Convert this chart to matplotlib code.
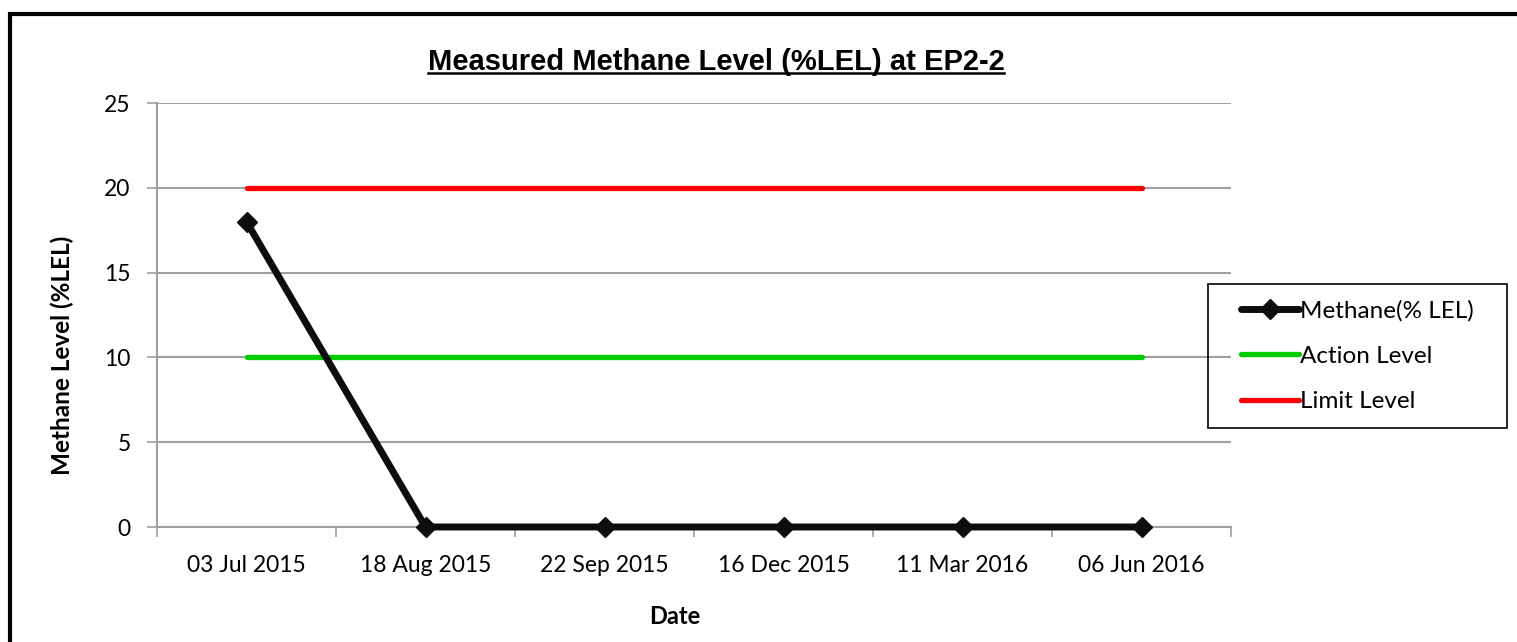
import numpy as np
import matplotlib
matplotlib.use('Agg')
import matplotlib.pyplot as plt
from matplotlib.patches import Rectangle
from matplotlib.lines import Line2D

dates = ['03 Jul 2015', '18 Aug 2015', '22 Sep 2015', '16 Dec 2015', '11 Mar 2016', '06 Jun 2016']
methane = [18, 0, 0, 0, 0, 0]
action_level = [10, 10, 10, 10, 10, 10]
limit_level = [20, 20, 20, 20, 20, 20]

W, H = 1517, 642
fig = plt.figure(figsize=(W / 100, H / 100), dpi=100)
ax = fig.add_axes([157 / W, 1 - 527 / H, (1231 - 157) / W, (527 - 103) / H])

font = 'Lato'
x = np.arange(len(dates))

ax.plot(x, methane, color='#0d0d0d', lw=5, marker='D', ms=10.5, clip_on=False,
        solid_capstyle='round', label='Methane(% LEL)', zorder=4)
ax.plot(x, action_level, color='#00cc00', lw=3.8, solid_capstyle='round',
        label='Action Level', zorder=3)
ax.plot(x, limit_level, color='#ff0000', lw=3.8, solid_capstyle='round',
        label='Limit Level', zorder=3)

ax.set_xlim(-0.5, len(dates) - 0.5)
ax.set_ylim(0, 25)
ax.set_yticks([0, 5, 10, 15, 20, 25])
ax.yaxis.grid(True, color='#a0a0a0', lw=1.5)
ax.set_axisbelow(True)

# category boundaries get the tick marks, labels sit in the middle
ax.set_xticks(np.arange(-0.5, len(dates)), labels=[''] * (len(dates) + 1))
ax.set_xticks(x, labels=dates, minor=True)
ax.tick_params(axis='x', which='major', length=7, width=1.2, color='#a0a0a0')
ax.tick_params(axis='x', which='minor', length=0, pad=20, labelsize=16.5)
ax.tick_params(axis='y', length=7, width=1.2, color='#a0a0a0', labelsize=16.5, pad=12)
for lab in ax.get_xticklabels(minor=True) + ax.get_yticklabels():
    lab.set_fontfamily(font)

for s in ['top', 'right']:
    ax.spines[s].set_visible(False)
for s in ['left', 'bottom']:
    ax.spines[s].set_color('#a0a0a0')
    ax.spines[s].set_linewidth(1.5)

fig.text(62 / W, 1 - 355 / H, 'Methane Level (%LEL)', rotation=90,
         ha='center', va='center', fontfamily=font, fontweight='bold', fontsize=17.5)
fig.text(675 / W, 1 - 617 / H, 'Date', ha='center', va='center',
         fontfamily=font, fontweight='bold', fontsize=17)

leg = fig.legend(loc='center', bbox_to_anchor=((1225 + 1490) / 2 / W, 1 - (284 + 428) / 2 / H),
                 prop={'family': font, 'size': 17.5}, frameon=False,
                 handlelength=2.4, handletextpad=0.05, labelspacing=1.0,
                 borderpad=0.65, borderaxespad=0)
# legend box is wider than the entries, so draw it by hand
fig.add_artist(Rectangle((1208 / W, 1 - 428 / H), (1507 - 1208) / W, (428 - 284) / H,
                         transform=fig.transFigure, fill=False,
                         edgecolor='black', lw=1.2))

title = fig.text(716 / W, 1 - 62 / H, 'Measured Methane Level (%LEL) at EP2-2',
                 ha='center', va='center', fontfamily='Liberation Sans',
                 fontweight='bold', fontsize=21)

# underline the title
fig.canvas.draw()
bb = title.get_window_extent().transformed(fig.transFigure.inverted())
fig.add_artist(Line2D([bb.x0, bb.x1], [bb.y0 + 0.004, bb.y0 + 0.004],
                      transform=fig.transFigure, color='black', lw=1.8))

# outer chart border (runs off the right and bottom edge)
fig.add_artist(Rectangle((10 / W, -0.1), 1.2, 1 - 14 / H + 0.1,
                         transform=fig.transFigure, fill=False,
                         edgecolor='black', lw=3))

fig.savefig('out.png', dpi=100)
